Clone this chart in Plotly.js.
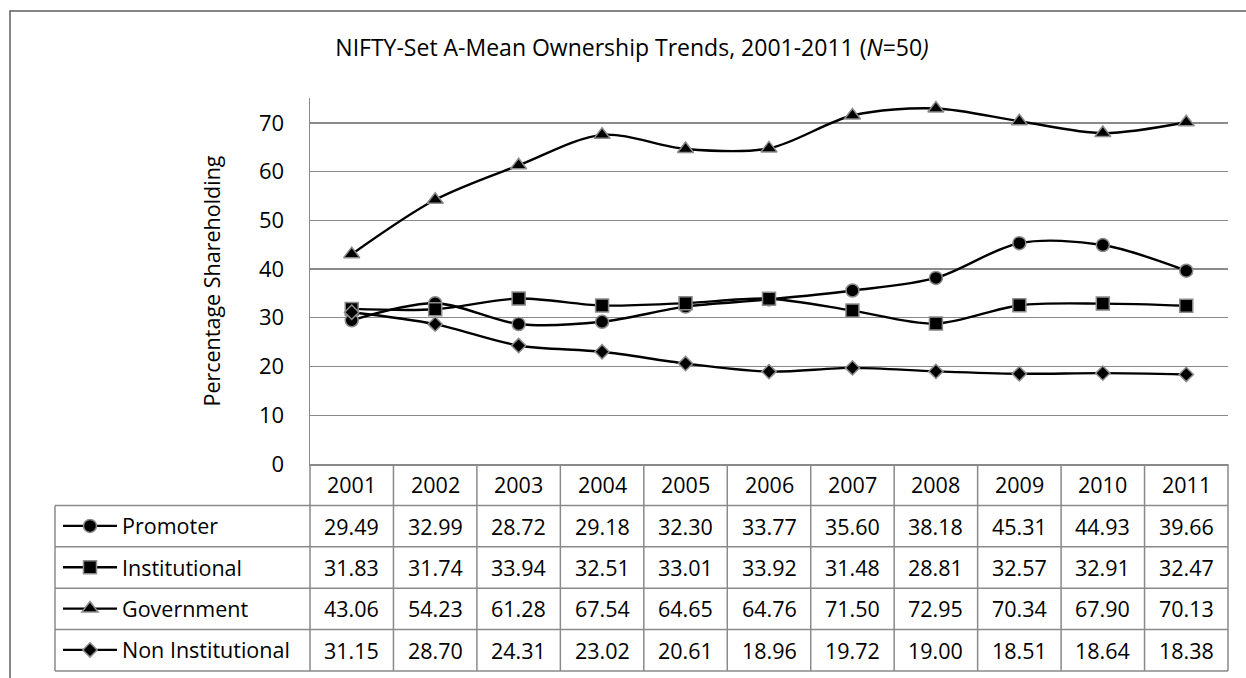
<!DOCTYPE html>
<html>
<head>
<meta charset="utf-8">
<script src="https://cdn.plot.ly/plotly-3.0.1.min.js"></script>
<style>html,body{margin:0;padding:0;background:#fff;}</style>
</head>
<body>
<div id="chart" style="width:1246px;height:678px;"></div>
<script>
// ---- data ----
var years = ['2001','2002','2003','2004','2005','2006','2007','2008','2009','2010','2011'];
var seriesNames = ['Promoter','Institutional','Government','Non Institutional'];
var promoter = [29.49,32.99,28.72,29.18,32.30,33.77,35.60,38.18,45.31,44.93,39.66];
var institutional = [31.83,31.74,33.94,32.51,33.01,33.92,31.48,28.81,32.57,32.91,32.47];
var government = [43.06,54.23,61.28,67.54,64.65,64.76,71.50,72.95,70.34,67.90,70.13];
var nonInstitutional = [31.15,28.70,24.31,23.02,20.61,18.96,19.72,19.00,18.51,18.64,18.38];
var yTicks = [0,10,20,30,40,50,60,70];

// ---- layout geometry (pixels) ----
var W = 1246, H = 678;
var L = 310, R = 1228, T = 98, B = 464;
var rowH = 41.4;
var legendLeft = 58;
var tableLeft = 55;
var FONT = 'Open Sans, sans-serif';
var FS = 21.5;
var gridCol = '#8a8a8a';

function px2x(p){ return (p - L) / (R - L); }
function py2y(p){ return (B - p) / (B - T); }

var allSeries = [promoter, institutional, government, nonInstitutional];
var symbols = ['circle','square','triangle-up','diamond'];
var sizes = [13, 13, 14, 11];

var traces = allSeries.map(function(vals, i){
  return {
    type: 'scatter', mode: 'lines+markers',
    name: seriesNames[i],
    x: years, y: vals,
    legendgroup: 'g' + i,
    line: {color: '#000', width: 2.4, shape: 'spline', smoothing: 0.9},
    marker: {symbol: symbols[i], size: sizes[i], color: '#000', line: {color: '#8c8c8c', width: 1.5}},
    cliponaxis: false
  };
});

var shapes = [];
var annotations = [];
var nCols = years.length;
var tableBottom = B + rowH * 5;

for (var c = 0; c <= nCols; c++) {
  shapes.push({type:'line', xref:'paper', yref:'paper', x0: c/nCols, x1: c/nCols,
    y0: py2y(B), y1: py2y(tableBottom), line:{color: gridCol, width: 1.5}});
}
shapes.push({type:'line', xref:'paper', yref:'paper', x0: px2x(tableLeft), x1: px2x(tableLeft),
  y0: py2y(B + rowH), y1: py2y(tableBottom), line:{color: gridCol, width: 1.5}});
for (var r = 1; r <= 5; r++) {
  shapes.push({type:'line', xref:'paper', yref:'paper', x0: px2x(tableLeft), x1: 1,
    y0: py2y(B + rowH*r), y1: py2y(B + rowH*r), line:{color: gridCol, width: 1.5}});
}
// outer frame
shapes.push({type:'rect', xref:'paper', yref:'paper', x0: px2x(10), x1: px2x(1300),
  y0: py2y(760), y1: py2y(11), line:{color:'#5f5f5f', width: 1.5}, fillcolor:'rgba(0,0,0,0)', layer:'below'});

// header texts (category index positions)
years.forEach(function(yr, j){
  annotations.push({xref:'x', yref:'paper', x: j, y: py2y(B + rowH/2), text: yr,
    showarrow:false, font:{family:FONT, size:FS, color:'#000'}, xanchor:'center', yanchor:'middle'});
});
allSeries.forEach(function(vals, i){
  vals.forEach(function(v, j){
    annotations.push({xref:'x', yref:'paper', x: j, y: py2y(B + rowH*(i+1.5)), text: v.toFixed(2),
      showarrow:false, font:{family:FONT, size:FS, color:'#000'}, xanchor:'center', yanchor:'middle'});
  });
});

var layout = {
  width: W, height: H,
  margin: {l: L, r: W - R, t: T, b: H - B, pad: 0, autoexpand: false},
  paper_bgcolor: '#fff', plot_bgcolor: '#fff',
  font: {family: FONT, size: FS, color: '#000'},
  title: {text: 'NIFTY-Set A-Mean Ownership Trends, 2001-2011 (<i>N</i>=50<i>)</i>',
    x: 632/W, xref:'container', xanchor:'center', y: 1 - 48/H, yref:'container', yanchor:'middle',
    font:{family: FONT, size: 23, color:'#000'}},
  xaxis: {type:'category', range:[-0.5, nCols-0.5], showticklabels:false, ticks:'',
    showgrid:false, zeroline:false, showline:true, linecolor: gridCol, linewidth:1.5, fixedrange:true},
  yaxis: {range:[0, 75.1], tickvals: yTicks, ticks:'', ticklabelstandoff: 20,
    showgrid:true, gridcolor: gridCol, gridwidth:1.3, zeroline:false,
    showline:true, linecolor: gridCol, linewidth:1.5,
    tickfont:{family:FONT, size:22, color:'#000'},
    title:{text:'Percentage Shareholding', standoff: 32, font:{family:FONT, size:FS, color:'#000'}}},
  showlegend: true,
  legend: {x: px2x(legendLeft), y: py2y(B + rowH), xanchor:'left', yanchor:'top',
    traceorder:'grouped', tracegroupgap: 10.4, itemwidth: 54, bgcolor:'rgba(0,0,0,0)',
    font:{family:FONT, size:FS, color:'#000'}, borderwidth:0},
  shapes: shapes,
  annotations: annotations
};

Plotly.newPlot('chart', traces, layout, {displayModeBar:false, staticPlot:true});
</script>
</body>
</html>
